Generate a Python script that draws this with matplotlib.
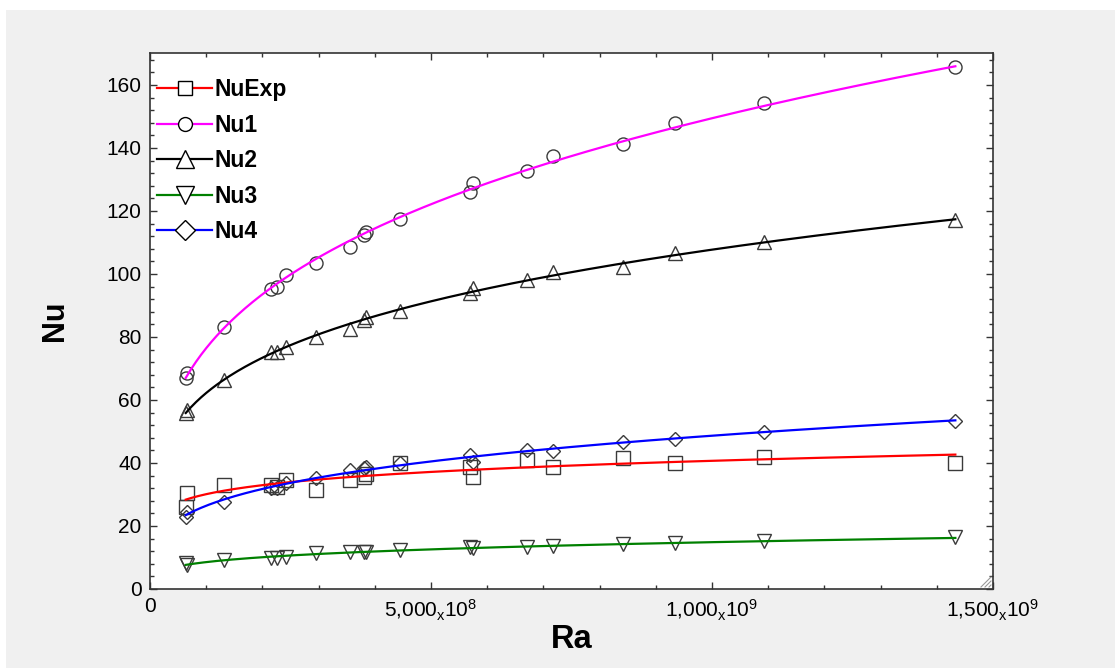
import numpy as np
import matplotlib
matplotlib.use("Agg")
import matplotlib.pyplot as plt
from matplotlib.lines import Line2D
from matplotlib.patches import Rectangle
from matplotlib.ticker import MultipleLocator

plt.rcParams['font.family'] = ['Liberation Sans', 'DejaVu Sans']
plt.rcParams['mathtext.fontset'] = 'custom'
plt.rcParams['mathtext.rm'] = 'Liberation Sans Narrow'
plt.rcParams['mathtext.it'] = 'Liberation Sans Narrow'

# ---- data ----
Ra = [0.636e8, 0.66e8, 1.32e8, 2.15e8, 2.26e8, 2.42e8, 2.95e8, 3.55e8, 3.81e8, 3.84e8,
      4.44e8, 5.69e8, 5.74e8, 6.71e8, 7.17e8, 8.41e8, 9.34e8, 10.93e8, 14.33e8]
NuExp = [26.1, 30.4, 33.0, 33.0, 32.5, 34.6, 31.4, 34.6, 35.7, 36.6,
         39.9, 38.8, 35.7, 41.0, 38.6, 41.5, 39.9, 41.8, 40.1]
Nu1 = [66.9, 68.7, 83.2, 95.2, 96.0, 99.6, 103.5, 108.5, 112.5, 113.2,
       117.6, 125.9, 129.0, 132.8, 137.4, 141.1, 147.9, 154.3, 165.7]
Nu2 = [55.8, 56.8, 66.3, 75.3, 75.3, 76.9, 79.9, 82.5, 85.4, 86.4,
       88.3, 93.9, 95.5, 98.1, 100.7, 102.3, 106.6, 110.3, 117.1]
Nu3 = [8.2, 7.6, 9.2, 9.7, 9.7, 10.3, 11.3, 11.8, 11.8, 11.8,
       12.4, 13.4, 12.9, 13.4, 13.8, 14.3, 14.5, 15.3, 16.4]
Nu4 = [23.0, 24.5, 27.7, 32.0, 32.0, 33.6, 35.1, 37.8, 38.3, 38.8,
       39.9, 42.5, 40.4, 44.1, 43.9, 46.8, 47.5, 49.7, 53.4]

series_names = ['NuExp', 'Nu1', 'Nu2', 'Nu3', 'Nu4']
series_values = [NuExp, Nu1, Nu2, Nu3, Nu4]
line_colors = ['#ff0000', '#ff00ff', '#000000', '#008000', '#0000ff']
markers = ['s', 'o', '^', 'v', 'D']

x_tick_values = [0, 5e8, 1e9, 1.5e9]
x_tick_labels = ['0', r'$\mathregular{5{,}000_{x}10^{8}}$',
                 r'$\mathregular{1{,}000_{x}10^{9}}$', r'$\mathregular{1{,}500_{x}10^{9}}$']

fig = plt.figure(figsize=(11.15, 6.68), dpi=100, facecolor='white')
fig.patches.append(Rectangle((6 / 1115, 0), 1, 1 - 10 / 668, transform=fig.transFigure,
                             facecolor='#f0f0f0', edgecolor='none', zorder=-10))
ax = fig.add_axes([150 / 1115, 1 - 589 / 668, (993 - 150) / 1115, (589 - 52.5) / 668])
ax.set_facecolor('white')

x = np.array(Ra)
xs = np.linspace(x.min(), x.max(), 300)
handles = []
data_ms = [9.4, 9.4, 9.6, 9.6, 6.7]
legend_ms = [9.5, 10.0, 12.5, 13.5, 10.5]
for name, vals, col, mk, ms, lms in zip(series_names, series_values, line_colors,
                                        markers, data_ms, legend_ms):
    y = np.array(vals)
    n, c = np.polyfit(np.log(x), np.log(y), 1)
    ax.plot(x, y, linestyle='none', marker=mk, markersize=ms, markerfacecolor='none',
            markeredgecolor='#3a3a3a', markeredgewidth=1.0, zorder=2)
    ax.plot(xs, np.exp(c) * xs ** n, color=col, linewidth=1.6, zorder=3)
    handles.append(Line2D([], [], color=col, linewidth=1.6, marker=mk, markersize=lms,
                          markerfacecolor='white', markeredgecolor='black',
                          markeredgewidth=1.0, label=name))

ax.set_xlim(0, 1.5e9)
ax.set_ylim(0, 170.3)
ax.set_xticks(x_tick_values)
ax.set_xticklabels(x_tick_labels)
ax.xaxis.set_minor_locator(MultipleLocator(1e8))
ax.yaxis.set_major_locator(MultipleLocator(20))
ax.yaxis.set_minor_locator(MultipleLocator(4))
ax.tick_params(which='both', direction='in', top=True, right=True, colors='#333333',
               labelcolor='black', width=1)
ax.tick_params(which='major', length=5)
ax.tick_params(which='minor', length=3)
ax.tick_params(axis='y', labelsize=15, pad=6)
ax.tick_params(axis='x', labelsize=15, pad=6)
for sp in ax.spines.values():
    sp.set_color('#333333')
    sp.set_linewidth(1.2)

ax.set_xlabel('Ra', fontsize=23.5, fontweight='bold', labelpad=1)
ax.set_ylabel('Nu', fontsize=22, fontweight='bold', labelpad=26)

# window resize grip in the lower-right corner
for k in range(3):
    off = 4 + 4 * k
    ax.plot([1 - off / 843, 1 - 2 / 843], [2 / 536.5, off / 536.5],
            transform=ax.transAxes, color='#999999', linewidth=0.8, zorder=5)

leg = ax.legend(handles=handles, loc='upper left', bbox_to_anchor=(7 / 843, 0.9525),
                frameon=False, prop={'weight': 'bold', 'size': 16.5}, handlelength=2.4,
                handletextpad=0.1, labelspacing=0.55, borderaxespad=0.0, borderpad=0.0)

fig.savefig('out.png', dpi=100, facecolor=fig.get_facecolor())
